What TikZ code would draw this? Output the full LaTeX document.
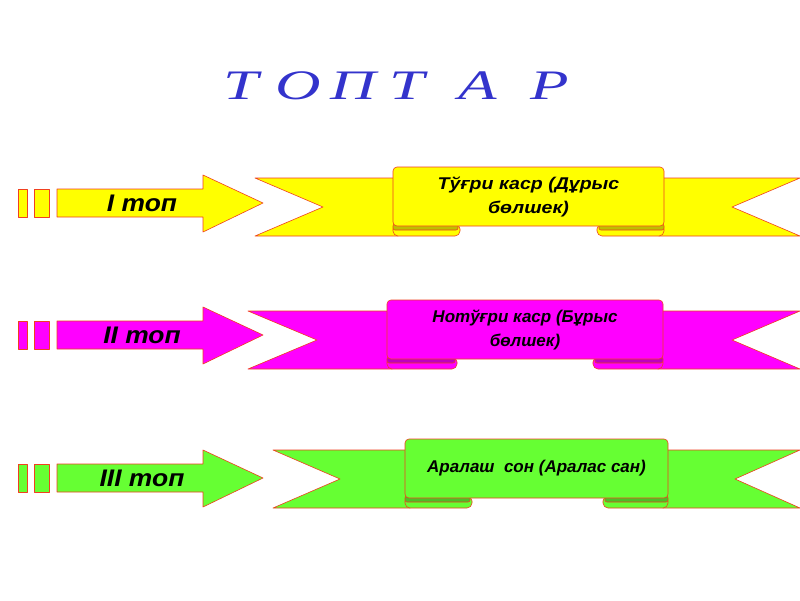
\documentclass[tikz,border=0pt]{standalone}
\usepackage{fontspec}
\setmainfont{Liberation Sans}
\newfontfamily\widesans[FakeStretch=1.1]{Liberation Sans}
\newfontfamily\scrollsans[FakeStretch=1.15]{Liberation Sans}
\newfontfamily\wideserif[FakeStretch=1.5]{Liberation Serif}
\definecolor{ribyellow}{HTML}{FFFF00}
\definecolor{ribmagenta}{HTML}{FF00FF}
\definecolor{ribgreen}{HTML}{66FF33}
\definecolor{ribedge}{HTML}{F04020}
\definecolor{titleblue}{HTML}{3333CC}

\begin{document}
\begin{tikzpicture}[
  x=1pt, y=-1pt,
  outline/.style={draw=ribedge, line width=0.6pt, line join=round},
  titleletter/.style={font=\wideserif\itshape\fontsize{42}{42}\selectfont, text=titleblue, inner sep=0pt},
  grouplabel/.style={font=\widesans\bfseries\itshape\fontsize{24}{24}\selectfont, inner sep=0pt},
  scrolltext/.style={align=center, inner sep=0pt},
]
  \useasboundingbox[fill=white] (0,0) rectangle (800,600);

  \foreach \ch/\x [count=\i] in {Т/241,О/298,П/353,Т/407,А/478,Р/550}
    \node[titleletter] (title\i) at (\x,86) {\ch};

  \foreach \r/\col/\am/\bt/\bl/\nl/\nr/\sl/\sr/\lf/\rf/\tf/\lab/\txt in {
    1/ribyellow/203/178/255/323/732/393/664/460/597/\scrollsans/{I топ}/{Тўғри каср (Дұрыс\\бөлшек)},
    2/ribmagenta/335/311/248/317/732/387/663/457/593/\normalfont/{II топ}/{Нотўғри каср (Бұрыс\\бөлшек)},
    3/ribgreen/478/450/273/340/735/405/668/472/603/\normalfont/{III топ}/{Аралаш~ сон (Аралас сан)}}
  {
    \draw[outline, fill=\col] (18,\am-14) rectangle (27,\am+14);
    \draw[outline, fill=\col] (34,\am-14) rectangle (49,\am+14);
    \draw[outline, fill=\col] (57,\am-14) -- (203,\am-14) -- (203,\am-28) -- (263,\am)
      -- (203,\am+29) -- (203,\am+14) -- (57,\am+14) -- cycle;
    \node[grouplabel] (lab\r) at (142,\am) {\lab};

    \draw[outline, fill=\col] (\bl,\bt) -- (\sl+5,\bt) -- (\sl+5,\bt+58) -- (\bl,\bt+58)
      -- (\nl,\bt+29) -- cycle;
    \draw[outline, fill=\col] (800,\bt) -- (\sr-5,\bt) -- (\sr-5,\bt+58) -- (800,\bt+58)
      -- (\nr,\bt+29) -- cycle;
    \draw[outline, fill=\col, rounded corners=5] (\sl,\bt+46) rectangle (\lf,\bt+58);
    \draw[outline, fill=\col, rounded corners=5] (\rf,\bt+46) rectangle (\sr,\bt+58);
    \draw[outline, fill=\col!75!black, rounded corners=2] (\sl,\bt+46) rectangle (\lf-2,\bt+52);
    \draw[outline, fill=\col!75!black, rounded corners=2] (\rf+2,\bt+46) rectangle (\sr,\bt+52);
    \draw[outline, fill=\col, rounded corners=4] (\sl,\bt-11) rectangle (\sr,\bt+48);
    \node[scrolltext, font={\tf\bfseries\itshape\fontsize{17}{24}\selectfont}] (txt\r)
      at ({(\sl+\sr)/2},\bt+18.5) {\txt};
  }
\end{tikzpicture}
\end{document}
